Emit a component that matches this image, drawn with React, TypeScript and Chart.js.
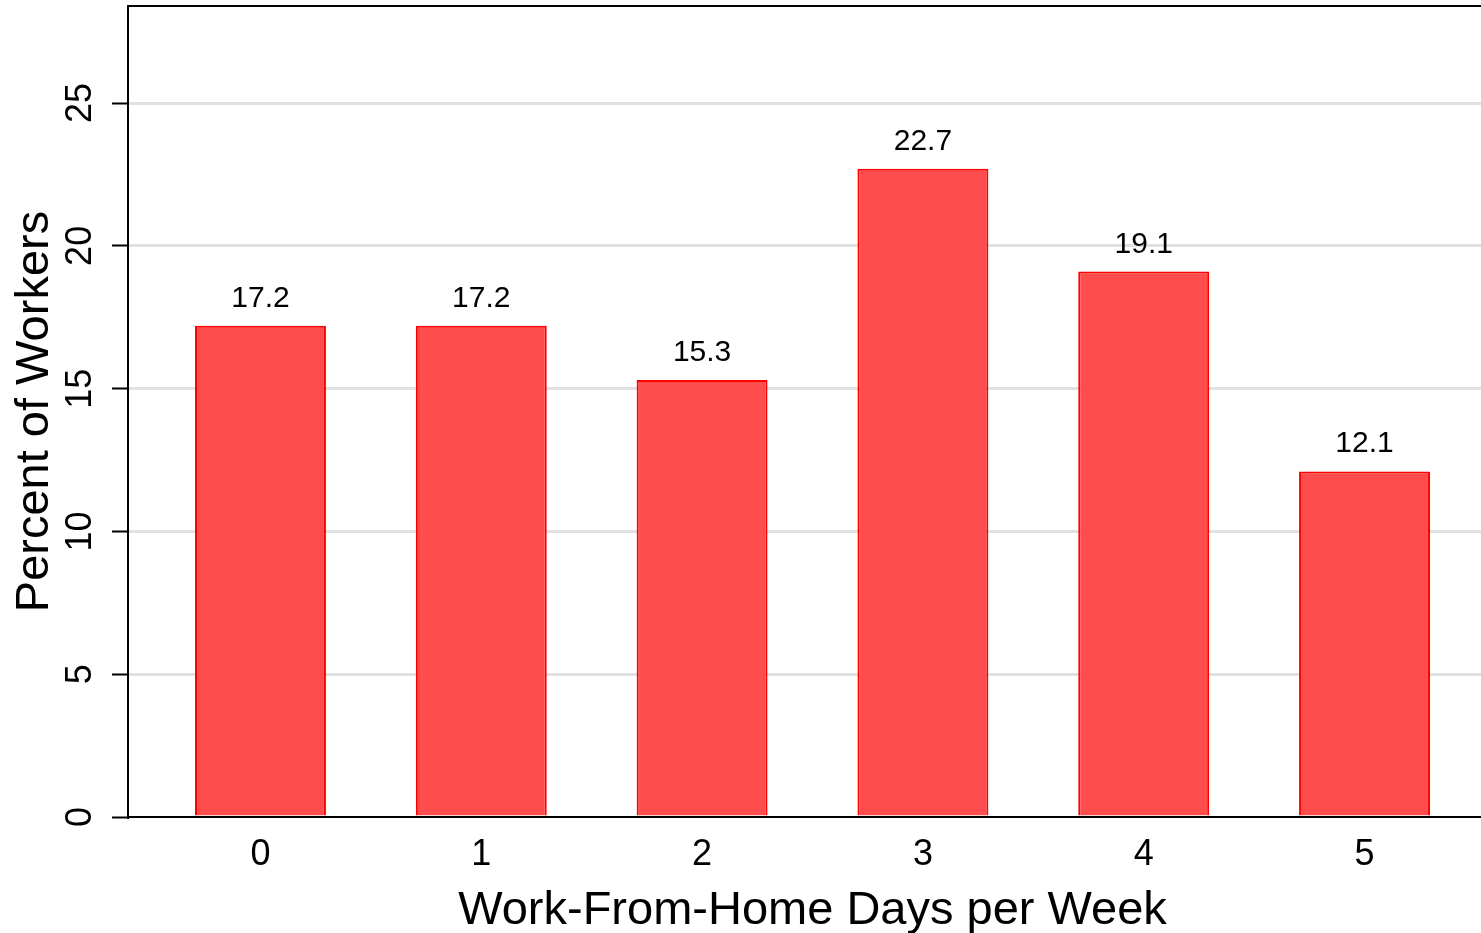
import React, { useEffect, useRef } from "react";
import { Chart, registerables } from "chart.js";

Chart.register(...registerables);

const categories = [0, 1, 2, 3, 4, 5];
const percentWorkers = [17.2, 17.2, 15.3, 22.7, 19.1, 12.1];
const yTickValues = [0, 5, 10, 15, 20, 25];
const xTitle = "Work-From-Home Days per Week";
const yTitle = "Percent of Workers";

const FONT = "'Liberation Sans', Arial, Helvetica, sans-serif";

export default function App() {
  const ref = useRef<HTMLCanvasElement>(null);

  useEffect(() => {
    document.body.style.margin = "0";
    const canvas = ref.current;
    if (!canvas) return;

    const topBorder = {
      id: "topBorder",
      afterDraw(chart: any) {
        const { ctx, chartArea } = chart;
        ctx.save();
        ctx.strokeStyle = "#000";
        ctx.lineWidth = 2;
        ctx.beginPath();
        ctx.moveTo(chartArea.left - 1, chartArea.top);
        ctx.lineTo(chartArea.right, chartArea.top);
        ctx.stroke();
        ctx.restore();
      },
    };

    const yTickLabels = {
      id: "yTickLabels",
      afterDraw(chart: any) {
        const { ctx } = chart;
        const s = chart.scales.y;
        ctx.save();
        ctx.fillStyle = "#000";
        ctx.font = `36px ${FONT}`;
        ctx.textAlign = "center";
        ctx.textBaseline = "middle";
        for (const v of yTickValues) {
          const py = s.getPixelForValue(v);
          ctx.save();
          ctx.translate(s.right - 47, py);
          ctx.rotate(-Math.PI / 2);
          ctx.fillText(String(v), 0, 0);
          ctx.restore();
        }
        ctx.restore();
      },
    };

    const valueLabels = {
      id: "valueLabels",
      afterDatasetsDraw(chart: any) {
        const { ctx } = chart;
        const meta = chart.getDatasetMeta(0);
        ctx.save();
        ctx.fillStyle = "#000";
        ctx.font = `30px ${FONT}`;
        ctx.textAlign = "center";
        ctx.textBaseline = "alphabetic";
        meta.data.forEach((bar: any, i: number) => {
          ctx.fillText(percentWorkers[i].toFixed(1), bar.x, bar.y - 19);
        });
        ctx.restore();
      },
    };

    const chart = new Chart(canvas, {
      type: "bar",
      data: {
        datasets: [
          {
            data: categories.map((c, i) => ({ x: c, y: percentWorkers[i] })),
            backgroundColor: "#FF4D4D",
            borderColor: "#FF0000",
            borderWidth: 2,
            barPercentage: 0.593,
            categoryPercentage: 1,
          },
        ],
      },
      options: {
        responsive: false,
        devicePixelRatio: 1,
        animation: false,
        layout: { padding: { left: 0, right: 3, top: 6, bottom: 0 } },
        plugins: {
          legend: { display: false },
          tooltip: { enabled: false },
        },
        scales: {
          x: {
            type: "linear",
            min: -0.6,
            max: 5.6,
            offset: false,
            afterBuildTicks: (axis: any) => {
              axis.ticks = categories.map((v) => ({ value: v }));
            },
            grid: { display: false, drawTicks: false, offset: false },
            border: { display: true, color: "#000", width: 2 },
            ticks: {
              color: "#000",
              font: { family: FONT, size: 36 },
              padding: 16,
              maxRotation: 0,
              autoSkip: false,
            },
            title: {
              display: true,
              text: xTitle,
              color: "#000",
              font: { family: FONT, size: 47, lineHeight: 1 },
              padding: { top: -4.2, bottom: -2 },
            },
          },
          y: {
            type: "linear",
            min: 0,
            max: 28.4,
            afterBuildTicks: (axis: any) => {
              axis.ticks = yTickValues.map((v) => ({ value: v }));
            },
            grid: {
              display: true,
              color: (c: any) => (c.tick && c.tick.value === 0 ? "rgba(0,0,0,0)" : "#E1E1E1"),
              lineWidth: 3,
              drawTicks: true,
              tickLength: 16,
              tickColor: "#000",
              tickWidth: 2,
            },
            border: { display: true, color: "#000", width: 2 },
            ticks: { display: false },
            title: {
              display: true,
              text: yTitle,
              color: "#000",
              font: { family: FONT, size: 47 },
              padding: { top: 7, bottom: 48.6 },
            },
          },
        },
      },
      plugins: [topBorder, yTickLabels, valueLabels],
    } as any);

    return () => chart.destroy();
  }, []);

  return (
    <div
      style={{
        position: "fixed",
        left: 0,
        top: 0,
        width: 1481,
        height: 933,
        overflow: "hidden",
        background: "#fff",
      }}
    >
      <canvas ref={ref} width={1500} height={933} style={{ display: "block", width: 1500, height: 933 }} />
    </div>
  );
}
